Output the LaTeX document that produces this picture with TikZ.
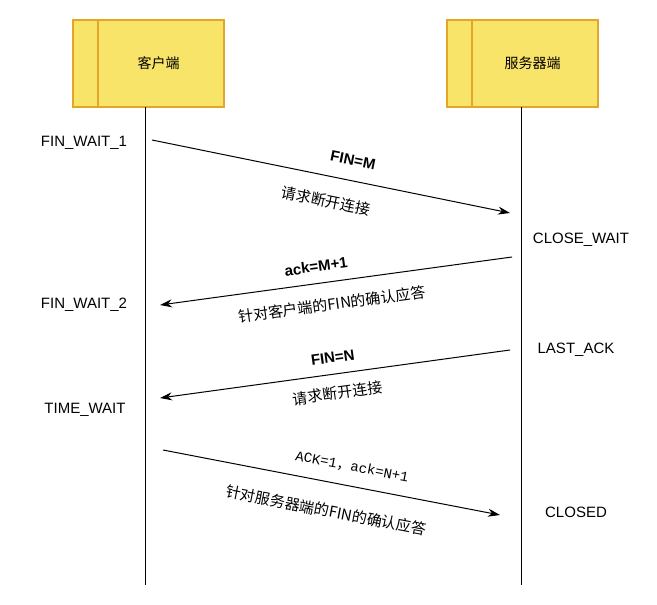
\documentclass[tikz,border=0pt]{standalone}
\usepackage{fontspec}
\setmainfont{Liberation Sans}
\newfontfamily\cjk{Noto Sans CJK SC}
\newfontfamily\monofont{Liberation Mono}
\usetikzlibrary{positioning,arrows.meta}
\definecolor{boxfill}{HTML}{F9E46A}
\definecolor{boxline}{HTML}{E3A628}
\tikzset
{
    party/.style  = {rectangle, draw=boxline, line width=1.2pt, fill=boxfill, minimum width=151pt, minimum height=87pt, font=\cjk\fontsize{14}{16}\selectfont},
    lifeline/.style = {line width=1pt, black},
    msg/.style    = {line width=1pt, -{Stealth[length=12pt,width=8pt]}},
    state/.style  = {font=\fontsize{15}{17}\selectfont},
    lbl/.style    = {font=\bfseries\fontsize{15}{17}\selectfont, sloped, inner sep=1pt},
    cnlbl/.style  = {font=\cjk\fontsize{15}{17}\selectfont, sloped, inner sep=1pt}
}
\begin{document}
\begin{tikzpicture}[x=1pt, y=-1pt]
   \useasboundingbox (0,0) rectangle (657,605);

   \node (c)  [party] at (148.5, 63.5) {\hspace*{20pt}客户端};
   \node (s)  [party] at (522.5, 63.5) {\hspace*{20pt}服务器端};
   \draw[boxline, line width=1.2pt] (98,20) -- (98,107);
   \draw[boxline, line width=1.2pt] (472,20) -- (472,107);

   \coordinate (cb) at (145,585);
   \coordinate (sb) at (521,585);
   \draw[lifeline] (145,107) -- (cb);
   \draw[lifeline] (521,107) -- (sb);

   % states
   \node (fw1) [state] at (84,143)  {FIN\_WAIT\_1};
   \node (cw)  [state] at (581,240) {CLOSE\_WAIT};
   \node (fw2) [state] at (84,305)  {FIN\_WAIT\_2};
   \node (la)  [state] at (576,350) {LAST\_ACK};
   \node (tw)  [state] at (85,410)  {TIME\_WAIT};
   \node (cl)  [state] at (576,512) {CLOSED};

   % messages
   \coordinate (m1a) at (152,140); \coordinate (m1b) at (510,213);
   \coordinate (m2a) at (512,257); \coordinate (m2b) at (160,305);
   \coordinate (m3a) at (510,350); \coordinate (m3b) at (160,398);
   \coordinate (m4a) at (163,450); \coordinate (m4b) at (500,515);

   \draw[msg] (m1a) -- node[lbl, above=14pt, pos=0.55] {FIN=M} node[cnlbl, below=16pt, pos=0.5] {请求断开连接} (m1b);
   \draw[msg] (m2a) -- node[lbl, above=10pt, pos=0.55] {ack=M+1} node[cnlbl, below=14pt, pos=0.52] {针对客户端的FIN的确认应答} (m2b);
   \draw[msg] (m3a) -- node[lbl, above=10pt, pos=0.5] {FIN=N} node[cnlbl, below=11pt, pos=0.5] {请求断开连接} (m3b);
   \draw[msg] (m4a) -- node[sloped, above=12pt, pos=0.55, inner sep=1pt, font=\fontsize{14}{16}\selectfont] {\monofont ACK=1\cjk，\monofont ack=N+1} node[cnlbl, below=20pt, pos=0.5] {针对服务器端的FIN的确认应答} (m4b);
\end{tikzpicture}
\end{document}
